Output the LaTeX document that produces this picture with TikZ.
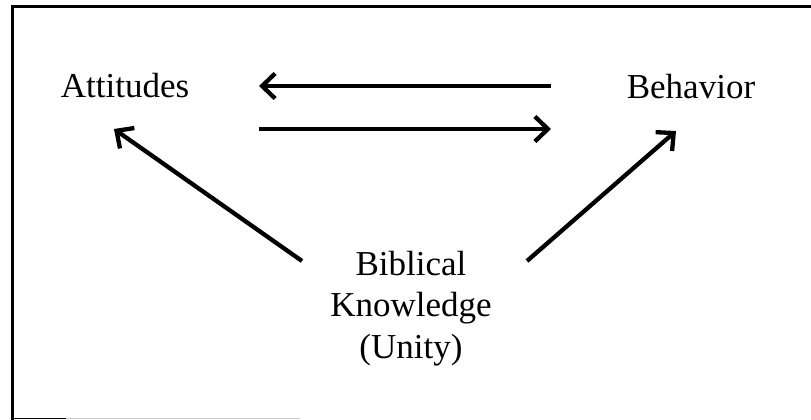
\documentclass[tikz,border=0pt]{standalone}
\usepackage{fontspec}
\setmainfont{Liberation Serif}
\usetikzlibrary{arrows.meta}
\tikzset{
  lbl/.style={font=\fontsize{35pt}{41pt}\selectfont, inner sep=0pt, anchor=base},
  conn/.style={line width=4.3pt, -{Straight Barb[length=13pt,width=25pt]}},
  frame/.style={line width=3pt, line cap=rect}
}
\begin{document}
\begin{tikzpicture}[x=1pt,y=-1pt]
\useasboundingbox (0,0) rectangle (811,420);
% frame
\draw[frame] (12,419) -- (12,6.5) -- (811,6.5);
\draw[line width=1.5pt] (12,418.5) -- (66,418.5);
\draw[line width=1pt, gray!40] (66,418.5) -- (300,418.5);
% labels
\node[lbl] (att) at (125,97) {Attitudes};
\node[lbl] (beh) at (691,98) {Behavior};
\node[lbl] (bib1) at (411,275) {Biblical};
\node[lbl] (bib2) at (411,316) {Knowledge};
\node[lbl] (bib3) at (411,358) {(Unity)};
% connector end points
\coordinate (h1s) at (551,86);
\coordinate (h1e) at (259,86);
\coordinate (h2s) at (259,129);
\coordinate (h2e) at (551,129);
\coordinate (ls) at (302,261);
\coordinate (le) at (114,129);
\coordinate (rs) at (527,261);
\coordinate (re) at (676,131);
% connectors
\draw[conn] (h1s) -- (h1e);
\draw[conn] (h2s) -- (h2e);
\draw[conn] (ls) -- (le);
\draw[conn] (rs) -- (re);
\end{tikzpicture}
\end{document}
